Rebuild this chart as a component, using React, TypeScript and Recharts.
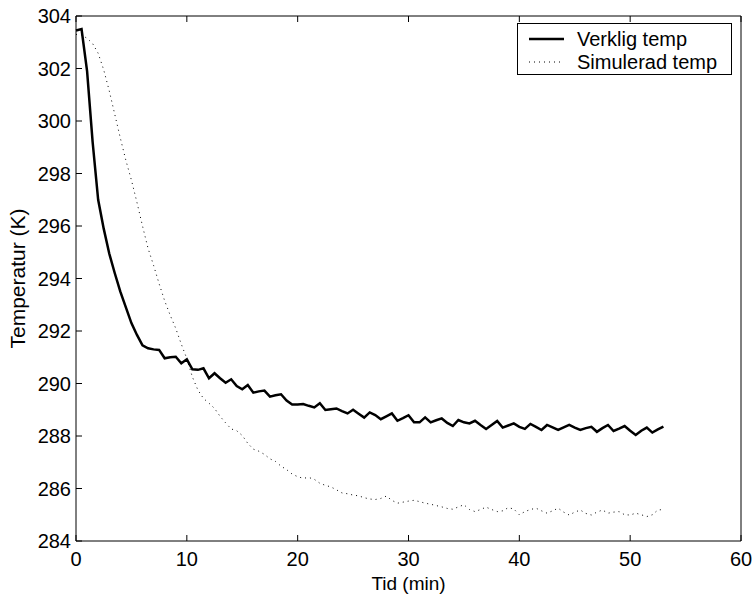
import { Legend, Line, LineChart, XAxis, YAxis } from "recharts";

const TIMES = [
    0, 0.5, 1, 1.5, 2, 2.5, 3, 3.5, 4, 4.5,
    5, 5.5, 6, 6.5, 7, 7.5, 8, 8.5, 9, 9.5,
    10, 10.5, 11, 11.5, 12, 12.5, 13, 13.5, 14, 14.5,
    15, 15.5, 16, 16.5, 17, 17.5, 18, 18.5, 19, 19.5,
    20, 20.5, 21, 21.5, 22, 22.5, 23, 23.5, 24, 24.5,
    25, 25.5, 26, 26.5, 27, 27.5, 28, 28.5, 29, 29.5,
    30, 30.5, 31, 31.5, 32, 32.5, 33, 33.5, 34, 34.5,
    35, 35.5, 36, 36.5, 37, 37.5, 38, 38.5, 39, 39.5,
    40, 40.5, 41, 41.5, 42, 42.5, 43, 43.5, 44, 44.5,
    45, 45.5, 46, 46.5, 47, 47.5, 48, 48.5, 49, 49.5,
    50, 50.5, 51, 51.5, 52, 52.5, 53,
];

// Verklig temp (K)
const REAL = [
    303.45, 303.5, 301.9, 299.2, 297.0, 295.9, 294.95, 294.2, 293.5, 292.9,
    292.3, 291.85, 291.45, 291.34, 291.3, 291.28, 290.96, 291.0, 291.02, 290.77,
    290.92, 290.54, 290.52, 290.58, 290.2, 290.39, 290.2, 290.03, 290.16, 289.9,
    289.78, 289.94, 289.65, 289.7, 289.73, 289.5, 289.55, 289.59, 289.35, 289.2,
    289.2, 289.22, 289.15, 289.09, 289.25, 288.99, 289.02, 289.05, 288.95, 288.86,
    289.0, 288.85, 288.7, 288.9, 288.8, 288.64, 288.75, 288.86, 288.58, 288.68,
    288.79, 288.52, 288.52, 288.71, 288.52, 288.6, 288.67, 288.5, 288.38, 288.61,
    288.52, 288.48, 288.58, 288.42, 288.27, 288.42, 288.57, 288.32, 288.4, 288.48,
    288.35, 288.27, 288.46, 288.35, 288.23, 288.42, 288.33, 288.23, 288.33, 288.42,
    288.32, 288.23, 288.3, 288.35, 288.16, 288.3, 288.42, 288.19, 288.28, 288.38,
    288.2, 288.04, 288.2, 288.32, 288.13, 288.25, 288.36,
];

// Simulerad temp (K)
const SIM = [
    303.3, 303.28, 303.15, 302.95, 302.58, 301.95, 301.15, 300.25, 299.35, 298.5,
    297.75, 296.9, 296.0, 295.15, 294.5, 293.8, 293.15, 292.6, 292.1, 291.5,
    290.95, 290.25, 289.75, 289.43, 289.25, 289.05, 288.75, 288.5, 288.27, 288.2,
    288.02, 287.72, 287.5, 287.42, 287.3, 287.13, 287.03, 286.85, 286.72, 286.55,
    286.45, 286.39, 286.42, 286.35, 286.2, 286.12, 286.06, 285.95, 285.83, 285.8,
    285.75, 285.72, 285.65, 285.6, 285.58, 285.62, 285.71, 285.55, 285.44, 285.48,
    285.52, 285.55, 285.5, 285.44, 285.4, 285.35, 285.3, 285.24, 285.21, 285.3,
    285.38, 285.2, 285.12, 285.2, 285.29, 285.2, 285.12, 285.15, 285.27, 285.22,
    285.0, 285.12, 285.2, 285.25, 285.15, 285.06, 285.15, 285.25, 285.1, 284.99,
    285.1, 285.18, 285.05, 284.99, 285.1, 285.18, 285.06, 285.1, 285.12, 285.0,
    284.99, 285.06, 285.0, 284.93, 285.0, 285.18, 285.2,
];

const X_TICKS = [0, 10, 20, 30, 40, 50, 60];
const Y_TICKS = [284, 286, 288, 290, 292, 294, 296, 298, 300, 302, 304];

const FONT = "'Liberation Sans', Arial, Helvetica, sans-serif";
const tickStyle = {fill: "#000", fontSize: 20, fontFamily: FONT};
const blank = () => "";

const LegendBox = () => (
    <div style={{
        width: 213, height: 50, border: "1px solid #000", background: "#fff",
        fontFamily: FONT, fontSize: 20, color: "#000", position: "relative",
    }}>
        {[{name: "Verklig temp", dash: undefined, w: 2.5, top: 4},
          {name: "Simulerad temp", dash: "1 4", w: 1, top: 27}].map((r) => (
            <div key={r.name} style={{position: "absolute", left: 0, top: r.top, height: 22, display: "flex", alignItems: "center"}}>
                <svg width={59} height={22}>
                    <line x1={11} x2={46} y1={11} y2={11} stroke="#000" strokeWidth={r.w} strokeDasharray={r.dash}/>
                </svg>
                <span style={{lineHeight: "22px"}}>{r.name}</span>
            </div>
        ))}
    </div>
);

export default function App() {
    const data = TIMES.map((t, i) => ({t, real: REAL[i], sim: SIM[i]}));

    return (
        <div style={{position: "absolute", left: 0, top: 0, background: "#fff"}}>
            <LineChart width={755} height={598} data={data}
                       margin={{top: 15, right: 13, bottom: 0, left: 0}}>
                <XAxis dataKey="t" type="number" domain={[0, 60]} ticks={X_TICKS}
                       height={57} tickSize={-6} tickMargin={17}
                       stroke="#000" tick={tickStyle} interval={0}
                       label={{value: "Tid (min)", position: "insideBottom", offset: 8,
                           fill: "#000", fontSize: 19, fontFamily: FONT}}/>
                <XAxis xAxisId="top" dataKey="t" type="number" domain={[0, 60]} ticks={X_TICKS}
                       orientation="top" height={1} tickSize={-6} stroke="#000"
                       tickFormatter={blank} interval={0}/>
                <YAxis type="number" domain={[284, 304]} ticks={Y_TICKS}
                       width={76} tickSize={-6} tickMargin={11}
                       stroke="#000" tick={tickStyle} interval={0}
                       label={{value: "Temperatur (K)", angle: -90, position: "insideLeft", offset: 18,
                           fill: "#000", fontSize: 21, fontFamily: FONT, style: {textAnchor: "middle"}}}/>
                <YAxis yAxisId="right" type="number" domain={[284, 304]} ticks={Y_TICKS}
                       orientation="right" width={1} tickSize={-6} stroke="#000"
                       tickFormatter={blank} interval={0}/>
                <Legend layout="horizontal" verticalAlign="middle" align="center"
                        wrapperStyle={{left: 517, top: 23, width: 215, height: 52}}
                        content={() => <LegendBox/>}/>
                <Line type="linear" dataKey="real" name="Verklig temp" stroke="#000"
                      strokeWidth={2.5} dot={false} isAnimationActive={false}/>
                <Line type="linear" dataKey="sim" name="Simulerad temp" stroke="#000"
                      strokeWidth={1} strokeDasharray="1 4" dot={false} isAnimationActive={false}/>
            </LineChart>
        </div>
    );
}
